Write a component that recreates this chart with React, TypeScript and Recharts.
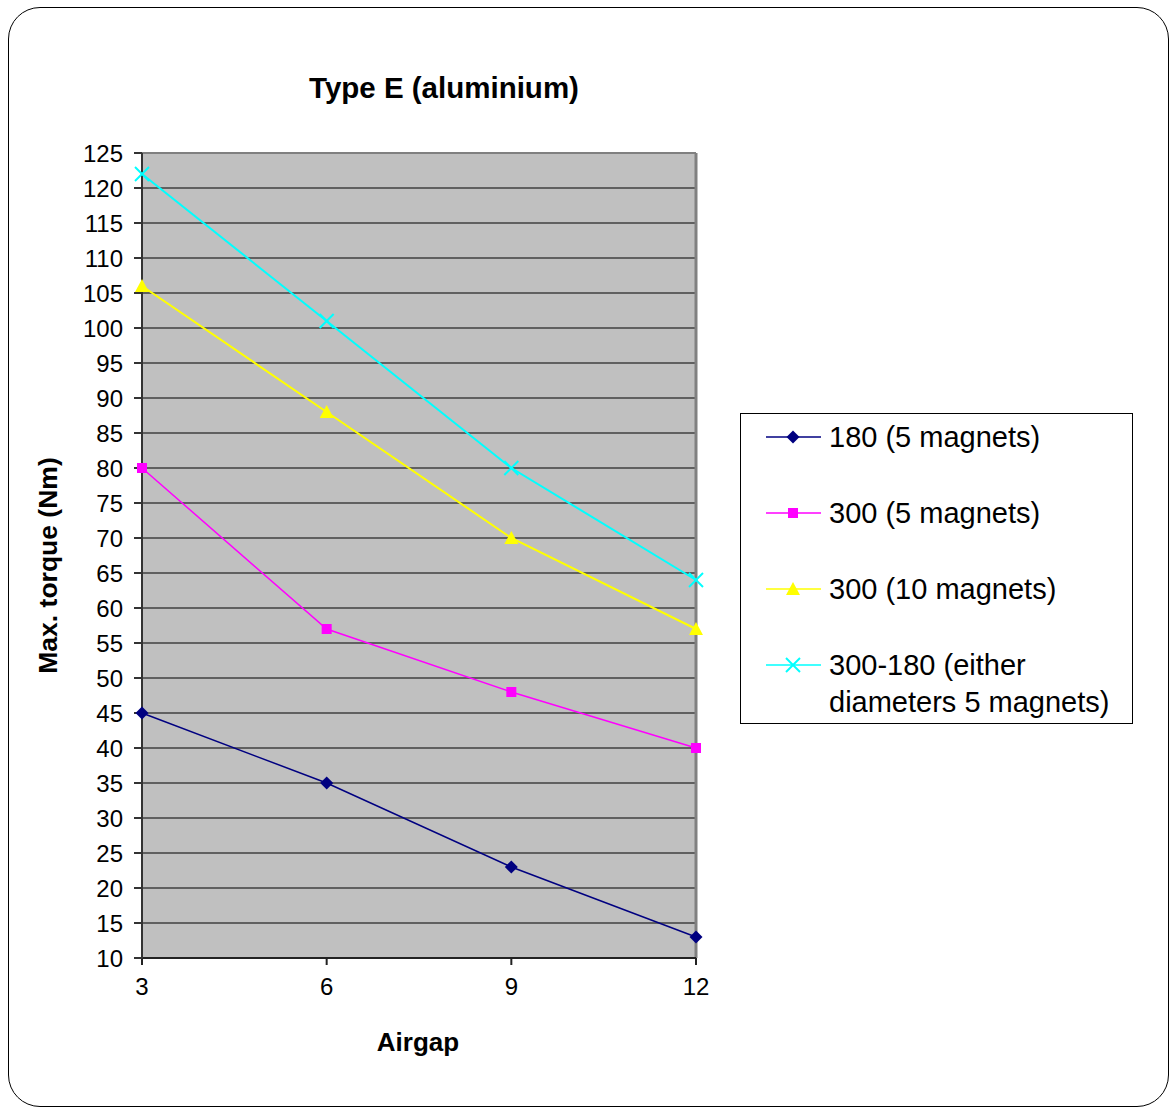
import React from "react";
import {
  LineChart,
  Line,
  XAxis,
  YAxis,
  CartesianGrid,
  ReferenceLine,
  Legend
} from "recharts";

const airgaps = [3, 6, 9, 12];
const torque180five = [45, 35, 23, 13];
const torque300five = [80, 57, 48, 40];
const torque300ten = [106, 88, 70, 57];
const torqueEither = [122, 101, 80, 64];
const yTicks = [10, 15, 20, 25, 30, 35, 40, 45, 50, 55, 60, 65, 70, 75, 80, 85, 90, 95, 100, 105, 110, 115, 120, 125];

const data = airgaps.map((gap, i) => ({
  gap,
  s180: torque180five[i],
  s300: torque300five[i],
  s300ten: torque300ten[i],
  either: torqueEither[i]
}));

const series = [
  { key: "s180", name: "180 (5 magnets)", color: "#000080", shape: "diamond" },
  { key: "s300", name: "300 (5 magnets)", color: "#FF00FF", shape: "square" },
  { key: "s300ten", name: "300 (10 magnets)", color: "#FFFF00", shape: "triangle" },
  { key: "either", name: "300-180 (either diameters 5 magnets)", color: "#00FFFF", shape: "cross" }
];

const FONT = "'Liberation Sans', Arial, sans-serif";

function Marker({ shape, cx, cy, color }: { shape: string; cx: number; cy: number; color: string }) {
  if (shape === "diamond") {
    return <polygon points={`${cx},${cy - 6.5} ${cx + 6.5},${cy} ${cx},${cy + 6.5} ${cx - 6.5},${cy}`} fill={color} />;
  }
  if (shape === "square") {
    return <rect x={cx - 5} y={cy - 5} width={10} height={10} fill={color} />;
  }
  if (shape === "triangle") {
    return <polygon points={`${cx},${cy - 7} ${cx + 7},${cy + 6} ${cx - 7},${cy + 6}`} fill={color} />;
  }
  return (
    <g stroke={color} strokeWidth={2}>
      <line x1={cx - 7} y1={cy - 7} x2={cx + 7} y2={cy + 7} />
      <line x1={cx - 7} y1={cy + 7} x2={cx + 7} y2={cy - 7} />
    </g>
  );
}

function LegendBox() {
  const top = [23, 99, 175, 251];
  return (
    <div
      style={{
        position: "relative",
        width: 393,
        height: 311,
        border: "1.5px solid #000",
        boxSizing: "border-box",
        background: "#fff",
        fontFamily: FONT,
        fontSize: 29,
        color: "#000"
      }}
    >
      {series.map((s, i) => (
        <div key={s.key} style={{ position: "absolute", left: 0, top: top[i] - 19, width: 393 }}>
          <svg width={90} height={38} style={{ position: "absolute", left: 0, top: 0 }}>
            <line x1={25} y1={19} x2={80} y2={19} stroke={s.color} strokeWidth={1.5} />
            <Marker shape={s.shape} cx={52} cy={19} color={s.color} />
          </svg>
          <div style={{ position: "absolute", left: 88, top: 1, width: 305, lineHeight: "37px", whiteSpace: "nowrap" }}>
            {s.name === "300-180 (either diameters 5 magnets)" ? (
              <>
                300-180 (either
                <br />
                diameters 5 magnets)
              </>
            ) : (
              s.name
            )}
          </div>
        </div>
      ))}
    </div>
  );
}

export default function App() {
  return (
    <div style={{ position: "absolute", left: 0, top: 0, width: 1171, height: 1108, background: "#fff" }}>
      <div
        style={{
          position: "absolute",
          left: 8,
          top: 7,
          width: 1161,
          height: 1100,
          border: "1.5px solid #000",
          borderRadius: 32,
          boxSizing: "border-box"
        }}
      />
      <div
        style={{
          position: "absolute",
          left: 244,
          top: 69,
          width: 400,
          textAlign: "center",
          fontFamily: FONT,
          fontWeight: "bold",
          fontSize: 29.5,
          lineHeight: "38px"
        }}
      >
        Type E (aluminium)
      </div>
      <div style={{ position: "absolute", left: 0, top: 0 }}>
        <LineChart
          width={1171}
          height={1108}
          data={data}
          margin={{ top: 153, right: 475, bottom: 100, left: 0 }}
        >
          <CartesianGrid horizontal vertical={false} stroke="#000" strokeOpacity={1} fill="#C0C0C0" fillOpacity={1} />
          <ReferenceLine y={125} stroke="#808080" strokeWidth={2} />
          <ReferenceLine x={12} stroke="#808080" strokeWidth={3} />
          <XAxis
            dataKey="gap"
            height={50}
            stroke="#222"
            strokeWidth={2}
            tickSize={7}
            tickMargin={13}
            tick={{ fill: "#000", fontSize: 24, fontFamily: FONT }}
            label={(props: any) => {
              const vb = props.viewBox;
              return (
                <text
                  x={418}
                  y={vb.y + 93}
                  textAnchor="middle"
                  fontFamily={FONT}
                  fontWeight="bold"
                  fontSize={26}
                  fill="#000"
                >
                  Airgap
                </text>
              );
            }}
          />
          <YAxis
            width={142}
            domain={[10, 125]}
            ticks={yTicks}
            interval={0}
            stroke="#333"
            strokeWidth={2}
            tickSize={8}
            tickMargin={11}
            tick={{ fill: "#000", fontSize: 24, fontFamily: FONT }}
            label={(props: any) => {
              const vb = props.viewBox;
              const cy = vb.y + vb.height / 2 + 10;
              return (
                <text
                  x={57}
                  y={cy}
                  transform={`rotate(-90 57 ${cy})`}
                  textAnchor="middle"
                  fontFamily={FONT}
                  fontWeight="bold"
                  fontSize={26.5}
                  fill="#000"
                >
                  Max. torque (Nm)
                </text>
              );
            }}
          />
          <Legend
            layout="vertical"
            align="center"
            verticalAlign="middle"
            content={() => <LegendBox />}
            wrapperStyle={{ position: "absolute", left: 740, top: 413, width: 393, height: 311 }}
          />
          {series.map((s) => (
            <Line
              key={s.key}
              type="linear"
              dataKey={s.key}
              name={s.name}
              stroke={s.color}
              strokeWidth={s.shape === "diamond" || s.shape === "square" ? 1.5 : 2}
              isAnimationActive={false}
              dot={(p: any) => <Marker key={`${s.key}-${p.index}`} shape={s.shape} cx={p.cx} cy={p.cy} color={s.color} />}
              activeDot={false}
            />
          ))}
        </LineChart>
      </div>
    </div>
  );
}
